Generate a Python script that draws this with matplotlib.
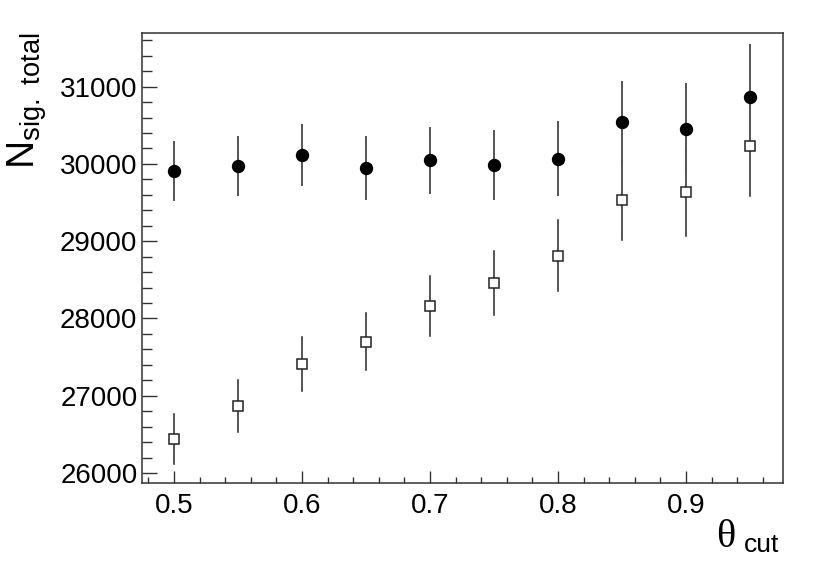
import matplotlib.pyplot as plt
import numpy as np
from matplotlib.ticker import MultipleLocator

plt.rcParams['font.family'] = ['Liberation Sans', 'DejaVu Sans']

# theta_cut values
theta_cut = [0.50, 0.55, 0.60, 0.65, 0.70, 0.75, 0.80, 0.85, 0.90, 0.95]

# filled circles
n_filled = [29909, 29974, 30113, 29952, 30048, 29987, 30069, 30539, 30453, 30871]
err_filled = [371, 375, 388, 401, 420, 440, 476, 517, 576, 669]

# open squares
n_open = [26438, 26869, 27413, 27701, 28163, 28461, 28814, 29530, 29634, 30233]
err_open = [323, 332, 349, 369, 390, 418, 457, 513, 561, 647]

fig = plt.figure(figsize=(8.14, 5.67), dpi=100)
ax = fig.add_axes([0.174, 0.148, 0.788, 0.794])

axis_col = '#333333'
bar_col = '#555555'

ax.errorbar(theta_cut, n_filled, yerr=err_filled, fmt='o', color='black',
            ms=8.6, ecolor=bar_col, elinewidth=1.4, capsize=1, capthick=1.4, zorder=3)
ax.errorbar(theta_cut, n_open, yerr=err_open, fmt='s', mfc='white', mec='#222222',
            mew=1.1, ms=7.2, ecolor=bar_col, elinewidth=1.4, capsize=1, capthick=1.4, zorder=3)

ax.set_xlim(0.4748, 0.9758)
ax.set_ylim(25870, 31695)

ax.xaxis.set_major_locator(MultipleLocator(0.1))
ax.xaxis.set_minor_locator(MultipleLocator(0.02))
ax.yaxis.set_major_locator(MultipleLocator(1000))
ax.yaxis.set_minor_locator(MultipleLocator(200))
ax.xaxis.set_major_formatter(plt.FuncFormatter(lambda v, p: f'{v:g}'))
ax.yaxis.set_major_formatter(plt.FuncFormatter(lambda v, p: f'{int(round(v))}'))

ax.tick_params(axis='both', which='both', direction='in', color=axis_col,
               top=False, right=False, labelsize=20, width=1)
ax.tick_params(axis='x', which='major', length=9, pad=7)
ax.tick_params(axis='x', which='minor', length=4.5)
ax.tick_params(axis='y', which='major', length=11, pad=3)
ax.tick_params(axis='y', which='minor', length=7)
for s in ax.spines.values():
    s.set_color(axis_col)
    s.set_linewidth(1.1)

# axis titles, ROOT style
fig.text(0.006, 0.942, r'N$_{\mathregular{sig.\ total}}$', rotation=90,
         ha='left', va='top', fontsize=28)
fig.text(0.957, 0.026, 'cut', ha='right', va='baseline', fontsize=19)
fig.text(0.904, 0.035, 'θ', ha='right', va='baseline', fontsize=29,
         family=['Liberation Serif', 'DejaVu Serif'])

fig.savefig('out.png', dpi=100)
